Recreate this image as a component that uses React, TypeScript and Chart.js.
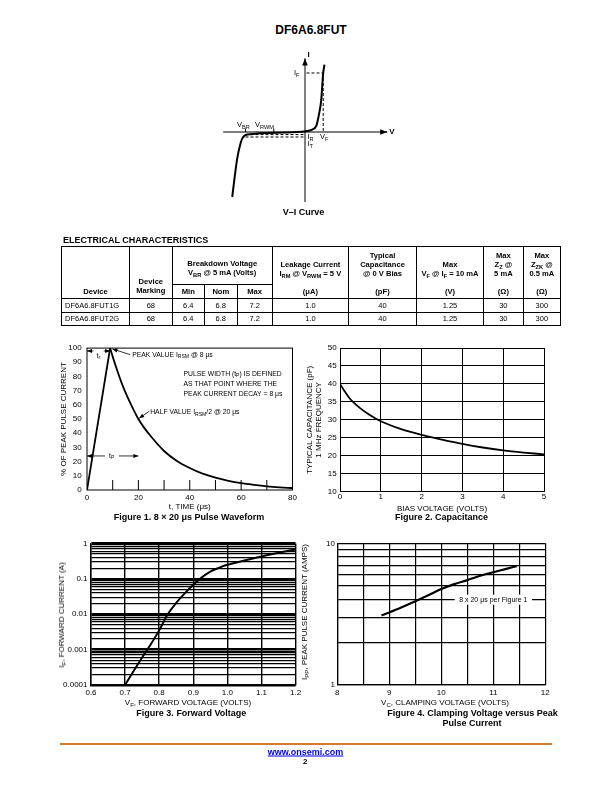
import React, { useEffect, useRef } from 'react';
import { Chart, registerables } from 'chart.js';
Chart.register(...registerables);

const FONT = '"Liberation Sans", Arial, Helvetica, sans-serif';
Chart.defaults.font.family = FONT;
Chart.defaults.color = '#000';

// ---------------- V–I curve (schematic) ----------------
const viCurveV = [-7.28, -6.78, -6.45, -6.28, -5.78, -2.12, 0.05, 0.72, 1.15, 1.38, 1.62, 1.82, 1.95];
const viCurveI = [-6.5, -2.66, -1.16, -0.66, -0.26, -0.06, 0.07, 0.24, 0.67, 1.67, 3.17, 5.9, 6.74];
const viAxisV = [-8.18, 8.22];
const viAxisI = [-7.0, 7.34];
const viIF = 5.9;
const viVF = 1.82;
const viIR = -0.26;
const viIT = -0.5;
const viVBR = -5.95;
const viVRWM = -3.12;

// ---------------- Figure 1 ----------------
const fig1RiseT = [0, 9];
const fig1RiseI = [0, 100];
const fig1DecayT = [9, 10, 12, 14, 16, 18, 20, 22, 25, 30, 35, 40, 45, 50, 55, 60, 65, 70, 75, 80];
const fig1DecayI = [100, 94, 83, 73, 64.5, 57, 50, 44.5, 37.5, 27.5, 20.5, 15.5, 11.5, 8.7, 6.5, 4.8, 3.6, 2.6, 1.9, 1.4];
const fig1XTicks = [0, 20, 40, 60, 80];
const fig1InnerTicks = [10, 20, 30, 40, 50, 60, 70];
const fig1YTicks = [0, 10, 20, 30, 40, 50, 60, 70, 80, 90, 100];

// ---------------- Figure 2 ----------------
const fig2V = [0, 0.1, 0.25, 0.5, 0.75, 1, 1.5, 2, 2.5, 3, 3.5, 4, 4.5, 5];
const fig2C = [40, 38.2, 35.8, 33.2, 31.2, 29.6, 27.4, 25.8, 24.5, 23.3, 22.3, 21.5, 20.9, 20.4];
const fig2XTicks = [0, 1, 2, 3, 4, 5];
const fig2YTicks = [10, 15, 20, 25, 30, 35, 40, 45, 50];

// ---------------- Figure 3 ----------------
const fig3V = [0.7, 0.725, 0.75, 0.775, 0.8, 0.825, 0.85, 0.875, 0.9, 0.925, 0.95, 0.975, 1.0, 1.05, 1.1, 1.15, 1.2];
const fig3I = [1.0e-4, 2.5e-4, 6.0e-4, 1.4e-3, 3.5e-3, 1.0e-2, 2.1e-2, 3.9e-2, 6.8e-2, 0.11, 0.16, 0.205, 0.25, 0.33, 0.43, 0.55, 0.68];
const fig3XTicks = [0.6, 0.7, 0.8, 0.9, 1.0, 1.1, 1.2];
const fig3Decades = [1e-4, 1e-3, 1e-2, 1e-1, 1];
const fig3DecadeLabels = ['0.0001', '0.001', '0.01', '0.1', '1'];

// ---------------- Figure 4 ----------------
const fig4V = [8.85, 9, 9.25, 9.5, 9.75, 10, 10.25, 10.5, 10.75, 11, 11.25, 11.45];
const fig4I = [3.1, 3.25, 3.55, 3.9, 4.3, 4.75, 5.15, 5.5, 5.9, 6.25, 6.6, 6.9];
const fig4XTicks = [8, 8.5, 9, 9.5, 10, 10.5, 11, 11.5, 12];
const fig4YTicks = [1, 2, 3, 4, 5, 6, 7, 8, 9, 10];

const pts = (xs: number[], ys: number[]) => xs.map((x, i) => ({ x, y: ys[i] }));
const tickList = (vals: number[]) => (s: any) => { s.ticks = vals.map((v) => ({ value: v })); };

type Seg = { t: string; sub?: boolean };
function drawRich(ctx: CanvasRenderingContext2D, segs: Seg[], x: number, y: number, size: number, align: 'left' | 'center') {
  ctx.save();
  ctx.fillStyle = '#000';
  ctx.textBaseline = 'middle';
  ctx.textAlign = 'left';
  const fN = `${size}px ${FONT}`;
  const fS = `${size * 0.75}px ${FONT}`;
  let total = 0;
  for (const s of segs) { ctx.font = s.sub ? fS : fN; total += ctx.measureText(s.t).width; }
  let cx = align === 'center' ? x - total / 2 : x;
  for (const s of segs) {
    ctx.font = s.sub ? fS : fN;
    ctx.fillText(s.t, cx, s.sub ? y + size * 0.3 : y);
    cx += ctx.measureText(s.t).width;
  }
  ctx.restore();
}

function arrow(ctx: CanvasRenderingContext2D, x1: number, y1: number, x2: number, y2: number, head = 5) {
  ctx.beginPath(); ctx.moveTo(x1, y1); ctx.lineTo(x2, y2); ctx.stroke();
  const a = Math.atan2(y2 - y1, x2 - x1);
  const c = Math.cos(a), s = Math.sin(a), w = head * 0.4;
  ctx.beginPath();
  ctx.moveTo(x2, y2);
  ctx.lineTo(x2 - head * c + w * s, y2 - head * s - w * c);
  ctx.lineTo(x2 - head * c - w * s, y2 - head * s + w * c);
  ctx.closePath(); ctx.fill();
}

const baseOptions = {
  responsive: true,
  maintainAspectRatio: false,
  animation: false as const,
  events: [] as any[],
  plugins: { legend: { display: false }, tooltip: { enabled: false } },
};

const tickFont = { family: FONT, size: 8 };
const titleFont = { family: FONT, size: 8 };

// ---------------- Fig 1 annotations ----------------
const fig1Notes: { segs: Seg[]; t: number; v: number; align: 'left' | 'center' }[] = [
  { segs: [{ t: 't' }, { t: 'r', sub: true }], t: 4.4, v: 94.5, align: 'center' },
  { segs: [{ t: 'PEAK VALUE I' }, { t: 'RSM', sub: true }, { t: ' @ 8 μs' }], t: 17.6, v: 95.4, align: 'left' },
  { segs: [{ t: 'PULSE WIDTH (t' }, { t: 'P', sub: true }, { t: ') IS DEFINED' }], t: 37.6, v: 81.9, align: 'left' },
  { segs: [{ t: 'AS THAT POINT WHERE THE' }], t: 37.6, v: 74.9, align: 'left' },
  { segs: [{ t: 'PEAK CURRENT DECAY = 8 μs' }], t: 37.6, v: 67.9, align: 'left' },
  { segs: [{ t: 'HALF VALUE I' }, { t: 'RSM', sub: true }, { t: '/2 @ 20 μs' }], t: 24.6, v: 54.9, align: 'left' },
  { segs: [{ t: 't' }, { t: 'P', sub: true }], t: 9.6, v: 24, align: 'center' },
];
const fig1Arrows = [
  [2.5, 98, 0, 98], [6.5, 98, 9, 98],
  [16.8, 95.4, 9.9, 99.4],
  [24.3, 55.6, 20.3, 50.5],
  [7, 24, 0, 24], [12.4, 24, 20, 24],
];

const fig1Plugin = {
  id: 'fig1notes',
  afterDatasetsDraw(chart: any) {
    const { ctx, chartArea: a, scales: { x, y } } = chart;
    ctx.save();
    ctx.strokeStyle = '#000'; ctx.fillStyle = '#000'; ctx.lineWidth = 1;
    ctx.strokeRect(a.left, a.top, a.right - a.left, a.bottom - a.top);
    for (const t of fig1InnerTicks) {
      const px = x.getPixelForValue(t);
      ctx.beginPath(); ctx.moveTo(px, a.bottom); ctx.lineTo(px, a.bottom - 10); ctx.stroke();
    }
    ctx.lineWidth = 0.8;
    for (const [t1, v1, t2, v2] of fig1Arrows) {
      arrow(ctx, x.getPixelForValue(t1), y.getPixelForValue(v1), x.getPixelForValue(t2), y.getPixelForValue(v2), 5);
    }
    for (const n of fig1Notes) drawRich(ctx, n.segs, x.getPixelForValue(n.t), y.getPixelForValue(n.v), 6.8, n.align);
    ctx.restore();
  },
};

const fig4Note = { text: '8 x 20 μs per Figure 1', x: 11.0, y: 4 };
const fig4Plugin = {
  id: 'fig4note',
  afterDatasetsDraw(chart: any) {
    const { ctx, scales: { x, y } } = chart;
    const px = x.getPixelForValue(fig4Note.x), py = y.getPixelForValue(fig4Note.y);
    ctx.save();
    ctx.font = `7px ${FONT}`;
    const w = ctx.measureText(fig4Note.text).width + 9;
    ctx.fillStyle = '#fff';
    ctx.fillRect(px - w / 2, py - 5, w, 10);
    ctx.restore();
    drawRich(ctx, [{ t: fig4Note.text }], px, py, 7, 'center');
  },
};

const viPlugin = {
  id: 'viArrows',
  afterDatasetsDraw(chart: any) {
    const { ctx, scales: { x, y } } = chart;
    ctx.save(); ctx.fillStyle = '#000'; ctx.strokeStyle = '#000'; ctx.lineWidth = 1;
    const hx = x.getPixelForValue(viAxisV[1]), hy = y.getPixelForValue(0);
    arrow(ctx, hx - 1, hy, hx, hy, 7);
    const vx = x.getPixelForValue(0), vy = y.getPixelForValue(viAxisI[1]);
    arrow(ctx, vx, vy + 1, vx, vy, 7);
    ctx.restore();
  },
};

function lineDs(data: any[], width = 2, extra: any = {}) {
  return { data, borderColor: '#000', backgroundColor: '#000', borderWidth: width, pointRadius: 0, fill: false, ...extra };
}

function makeVI() {
  const dash = { borderDash: [3, 2] };
  return {
    type: 'line',
    data: {
      datasets: [
        lineDs(pts(viAxisV, [0, 0]), 1),
        lineDs(pts([0, 0], viAxisI), 1),
        lineDs(pts([0.15, viVF], [viIF, viIF]), 1, dash),
        lineDs(pts([viVF, viVF], [viIF, 0]), 1, dash),
        lineDs(pts([viVBR, -0.05], [viIR, viIR]), 1, dash),
        lineDs(pts([viVBR, -0.05], [viIT, viIT]), 1, dash),
        lineDs(pts([viVBR, viVBR], [0, 0.34]), 1),
        lineDs(pts([viVRWM, viVRWM], [0, 0.34]), 1),
        lineDs(pts(viCurveV, viCurveI), 2, { cubicInterpolationMode: 'monotone' }),
      ],
    },
    options: {
      ...baseOptions,
      layout: { padding: 0 },
      scales: {
        x: { type: 'linear', min: -9, max: 9, display: false },
        y: { type: 'linear', min: -8, max: 8, display: false },
      },
    },
    plugins: [viPlugin],
  };
}

function makeFig1() {
  return {
    type: 'line',
    data: {
      datasets: [
        lineDs(pts(fig1RiseT, fig1RiseI), 1.8),
        lineDs(pts(fig1DecayT, fig1DecayI), 1.8, { cubicInterpolationMode: 'monotone' }),
      ],
    },
    options: {
      ...baseOptions,
      layout: { padding: { top: 9.5, right: 9.5, left: 0, bottom: 0 } },
      scales: {
        x: {
          type: 'linear', min: 0, max: 80,
          afterFit: (s: any) => { s.height = 24; },
          afterBuildTicks: tickList(fig1XTicks),
          grid: { display: false, drawTicks: false }, border: { display: false },
          ticks: { font: tickFont, color: '#000', padding: 2.5, maxRotation: 0, autoSkip: false },
          title: { display: true, text: 't, TIME (μs)', font: titleFont, color: '#000', padding: { top: 0, bottom: 2.5 } },
        },
        y: {
          type: 'linear', min: 0, max: 100,
          afterFit: (s: any) => { s.width = 47; },
          afterBuildTicks: tickList(fig1YTicks),
          grid: { display: false, drawTicks: false }, border: { display: false },
          ticks: { font: tickFont, color: '#000', padding: 5.3, autoSkip: false },
          title: { display: true, text: '% OF PEAK PULSE CURRENT', font: titleFont, color: '#000', padding: { top: 18.5, bottom: 0 } },
        },
      },
    },
    plugins: [fig1Plugin],
  };
}

function makeFig2() {
  const grid = { color: '#000', lineWidth: 1, drawTicks: false };
  return {
    type: 'line',
    data: { datasets: [lineDs(pts(fig2V, fig2C), 1.8, { cubicInterpolationMode: 'monotone' })] },
    options: {
      ...baseOptions,
      layout: { padding: { top: 10, right: 14, left: 0, bottom: 0 } },
      scales: {
        x: {
          type: 'linear', min: 0, max: 5,
          afterFit: (s: any) => { s.height = 22.3; },
          afterBuildTicks: tickList(fig2XTicks),
          grid, border: { color: '#000', width: 1 },
          ticks: { font: tickFont, color: '#000', padding: 0.5, maxRotation: 0, autoSkip: false },
          title: { display: true, text: 'BIAS VOLTAGE (VOLTS)', font: titleFont, color: '#000', padding: { top: 0, bottom: 0.5 } },
        },
        y: {
          type: 'linear', min: 10, max: 50,
          afterFit: (s: any) => { s.width = 44; },
          afterBuildTicks: tickList(fig2YTicks),
          grid, border: { color: '#000', width: 1 },
          ticks: { font: tickFont, color: '#000', padding: 3.3, autoSkip: false },
          title: { display: true, text: ['TYPICAL CAPACITANCE (pF)', '1 MHz FREQUENCY'], font: { family: FONT, size: 8, lineHeight: 1.05 }, color: '#000', padding: { top: 9.8, bottom: 0 } },
        },
      },
    },
  };
}

function makeFig3() {
  return {
    type: 'line',
    data: { datasets: [lineDs(pts(fig3V, fig3I), 2, { cubicInterpolationMode: 'monotone' })] },
    options: {
      ...baseOptions,
      layout: { padding: { top: 10.5, right: 8, left: 0, bottom: 0 } },
      scales: {
        x: {
          type: 'linear', min: 0.6, max: 1.2,
          afterFit: (s: any) => { s.height = 24; },
          afterBuildTicks: tickList(fig3XTicks),
          grid: { color: '#000', lineWidth: 1.4, drawTicks: false }, border: { color: '#000', width: 1.4 },
          ticks: { font: tickFont, color: '#000', padding: 2.9, maxRotation: 0, autoSkip: false, callback: (v: any) => Number(v).toFixed(1) },
        },
        y: {
          type: 'logarithmic', min: 1e-4, max: 1,
          afterFit: (s: any) => { s.width = 51; },
          afterBuildTicks: (s: any) => {
            const vals: number[] = [];
            for (let d = 0; d < fig3Decades.length - 1; d++) for (let k = 1; k <= 9; k++) vals.push(fig3Decades[d] * k);
            vals.push(fig3Decades[fig3Decades.length - 1]);
            s.ticks = vals.map((v) => ({ value: v }));
          },
          grid: {
            color: '#000', drawTicks: false,
            lineWidth: (c: any) => {
              const v = c.tick ? c.tick.value : 0;
              return fig3Decades.some((d) => Math.abs(v - d) / d < 1e-6) ? 2.5 : 1.3;
            },
          },
          border: { color: '#000', width: 1.4 },
          ticks: {
            font: tickFont, color: '#000', padding: 3.5, autoSkip: false,
            callback: (v: any) => {
              const i = fig3Decades.findIndex((d) => Math.abs(Number(v) - d) / d < 1e-6);
              return i >= 0 ? fig3DecadeLabels[i] : '';
            },
          },
        },
      },
    },
  };
}

function makeFig4() {
  return {
    type: 'line',
    data: { datasets: [lineDs(pts(fig4V, fig4I), 2.2, { cubicInterpolationMode: 'monotone' })] },
    options: {
      ...baseOptions,
      layout: { padding: { top: 10.3, right: 12.7, left: 0, bottom: 0 } },
      scales: {
        x: {
          type: 'linear', min: 8, max: 12,
          afterFit: (s: any) => { s.height = 24; },
          afterBuildTicks: tickList(fig4XTicks),
          grid: { color: '#000', lineWidth: 1.2, drawTicks: false }, border: { color: '#000', width: 1.2 },
          ticks: { font: tickFont, color: '#000', padding: 2.9, maxRotation: 0, autoSkip: false, callback: (v: any) => (Number.isInteger(Number(v)) ? String(v) : '') },
        },
        y: {
          type: 'logarithmic', min: 1, max: 10,
          afterFit: (s: any) => { s.width = 41.3; },
          afterBuildTicks: tickList(fig4YTicks),
          grid: { color: '#000', lineWidth: 1.2, drawTicks: false }, border: { color: '#000', width: 1.2 },
          ticks: { font: tickFont, color: '#000', padding: 2.3, autoSkip: false, callback: (v: any) => (Number(v) === 1 || Number(v) === 10 ? String(v) : '') },
        },
      },
    },
    plugins: [fig4Plugin],
  };
}

function ChartBox({ left, top, width, height, make }: { left: number; top: number; width: number; height: number; make: () => any }) {
  const ref = useRef<HTMLCanvasElement | null>(null);
  useEffect(() => {
    const chart = new Chart(ref.current as HTMLCanvasElement, make());
    return () => chart.destroy();
  }, []);
  return (
    <div style={{ position: 'absolute', left, top, width, height }}>
      <canvas ref={ref} />
    </div>
  );
}

const Sub = ({ children }: any) => <span style={{ fontSize: '0.75em', verticalAlign: '-0.3em', lineHeight: 0 }}>{children}</span>;

function Txt({ x, y, size = 8, bold = false, align = 'center', color = '#000', children, style }: any) {
  const tx = align === 'center' ? '-50%' : align === 'right' ? '-100%' : '0';
  return (
    <div style={{ position: 'absolute', left: x, top: y, transform: `translate(${tx},-50%)`, fontSize: size, fontWeight: bold ? 'bold' : 'normal', lineHeight: 1, whiteSpace: 'nowrap', color, ...style }}>
      {children}
    </div>
  );
}

function VTxt({ x, y, size = 8, children }: any) {
  return (
    <div style={{ position: 'absolute', left: x, top: y, transform: 'translate(-50%,-50%) rotate(-90deg)', fontSize: size, lineHeight: 1, whiteSpace: 'nowrap' }}>
      {children}
    </div>
  );
}

const tableCols = [68, 42.7, 32.3, 32.7, 35, 76.3, 68, 67, 39.7, 37.3];
const tableRows = [
  ['DF6A6.8FUT1G', '68', '6.4', '6.8', '7.2', '1.0', '40', '1.25', '30', '300'],
  ['DF6A6.8FUT2G', '68', '6.4', '6.8', '7.2', '1.0', '40', '1.25', '30', '300'],
];

function SpecTable() {
  const cell: React.CSSProperties = { border: '1px solid #000', padding: 0, textAlign: 'center', fontSize: 7.6, lineHeight: '9px', fontWeight: 'bold' };
  const top: React.CSSProperties = { ...cell, verticalAlign: 'bottom', paddingBottom: 7, borderBottom: 'none' };
  const unit: React.CSSProperties = { ...cell, borderTop: 'none' };
  const data: React.CSSProperties = { ...cell, fontWeight: 'normal', fontSize: 7.5 };
  return (
    <table style={{ position: 'absolute', left: 61, top: 246, width: 499, borderCollapse: 'collapse', tableLayout: 'fixed' }}>
      <colgroup>{tableCols.map((w, i) => <col key={i} style={{ width: w }} />)}</colgroup>
      <tbody>
        <tr style={{ height: 38 }}>
          <td rowSpan={2} style={{ ...cell, verticalAlign: 'bottom', paddingBottom: 2 }}>Device</td>
          <td rowSpan={2} style={{ ...cell, verticalAlign: 'bottom', paddingBottom: 3 }}>Device<br />Marking</td>
          <td colSpan={3} style={{ ...cell, verticalAlign: 'bottom', paddingBottom: 7 }}>Breakdown Voltage<br />V<Sub>BR</Sub> @ 5 mA (Volts)</td>
          <td style={top}>Leakage Current<br />I<Sub>RM</Sub> @ V<Sub>RWM</Sub> = 5 V</td>
          <td style={top}>Typical<br />Capacitance<br />@ 0 V Bias</td>
          <td style={top}>Max<br />V<Sub>F</Sub> @ I<Sub>F</Sub> = 10 mA</td>
          <td style={top}>Max<br />Z<Sub>Z</Sub> @<br />5 mA</td>
          <td style={top}>Max<br />Z<Sub>ZK</Sub> @<br />0.5 mA</td>
        </tr>
        <tr style={{ height: 14 }}>
          <td style={cell}>Min</td>
          <td style={cell}>Nom</td>
          <td style={cell}>Max</td>
          <td style={unit}>(μA)</td>
          <td style={unit}>(pF)</td>
          <td style={unit}>(V)</td>
          <td style={unit}>(Ω)</td>
          <td style={unit}>(Ω)</td>
        </tr>
        {tableRows.map((r, i) => (
          <tr key={i} style={{ height: 13.5 }}>
            {r.map((c, j) => <td key={j} style={j === 0 ? { ...data, textAlign: 'left', paddingLeft: 3 } : data}>{c}</td>)}
          </tr>
        ))}
      </tbody>
    </table>
  );
}

export default function App() {
  return (
    <div style={{ position: 'absolute', left: 0, top: 0, width: 612, height: 792, background: '#fff', fontFamily: FONT, color: '#000', overflow: 'hidden' }}>
      <Txt x={311} y={30} size={12} bold>DF6A6.8FUT</Txt>

      <ChartBox left={214.5} top={51.7} width={180} height={160} make={makeVI} />
      <Txt x={308.5} y={54.5} size={8} bold>I</Txt>
      <Txt x={392} y={131.7} size={8} bold>V</Txt>
      <Txt x={296.7} y={73.3} size={7.5}>I<Sub>F</Sub></Txt>
      <Txt x={243.5} y={124.5} size={7.5}>V<Sub>BR</Sub></Txt>
      <Txt x={264.5} y={124.5} size={7.5}>V<Sub>RWM</Sub></Txt>
      <Txt x={307.5} y={137} size={7.5} align="left">I<Sub>R</Sub></Txt>
      <Txt x={307.5} y={143.5} size={7.5} align="left">I<Sub>T</Sub></Txt>
      <Txt x={320} y={137} size={7.5} align="left">V<Sub>F</Sub></Txt>
      <Txt x={303.5} y={211.7} size={9} bold>V–I Curve</Txt>

      <Txt x={63} y={240} size={9} bold align="left">ELECTRICAL CHARACTERISTICS</Txt>
      <SpecTable />

      <ChartBox left={40} top={338} width={262} height={176} make={makeFig1} />
      <Txt x={189} y={517.3} size={9} bold>Figure 1. 8 × 20 μs Pulse Waveform</Txt>

      <ChartBox left={296} top={338} width={262} height={176} make={makeFig2} />
      <Txt x={441.5} y={517.3} size={9} bold>Figure 2. Capacitance</Txt>

      <ChartBox left={40} top={533} width={264} height={176} make={makeFig3} />
      <VTxt x={62.3} y={615}>I<Sub>F</Sub>, FORWARD CURRENT (A)</VTxt>
      <Txt x={188} y={703.3} size={8}>V<Sub>F</Sub>, FORWARD VOLTAGE (VOLTS)</Txt>
      <Txt x={191.3} y={712.7} size={9} bold>Figure 3. Forward Voltage</Txt>

      <ChartBox left={296} top={533} width={262} height={176} make={makeFig4} />
      <VTxt x={305} y={612}>I<Sub>PP</Sub>, PEAK PULSE CURRENT (AMPS)</VTxt>
      <Txt x={445} y={703.3} size={8}>V<Sub>C</Sub>, CLAMPING VOLTAGE (VOLTS)</Txt>
      <Txt x={472.5} y={712.7} size={9} bold>Figure 4. Clamping Voltage versus Peak</Txt>
      <Txt x={472} y={722.7} size={9} bold>Pulse Current</Txt>

      <div style={{ position: 'absolute', left: 60, top: 743, width: 492, height: 2, background: '#d57a33' }} />
      <Txt x={305.5} y={751.7} size={9} bold color="#0000ee" style={{ textDecoration: 'underline' }}>www.onsemi.com</Txt>
      <Txt x={305.3} y={762.3} size={8} bold>2</Txt>
    </div>
  );
}
